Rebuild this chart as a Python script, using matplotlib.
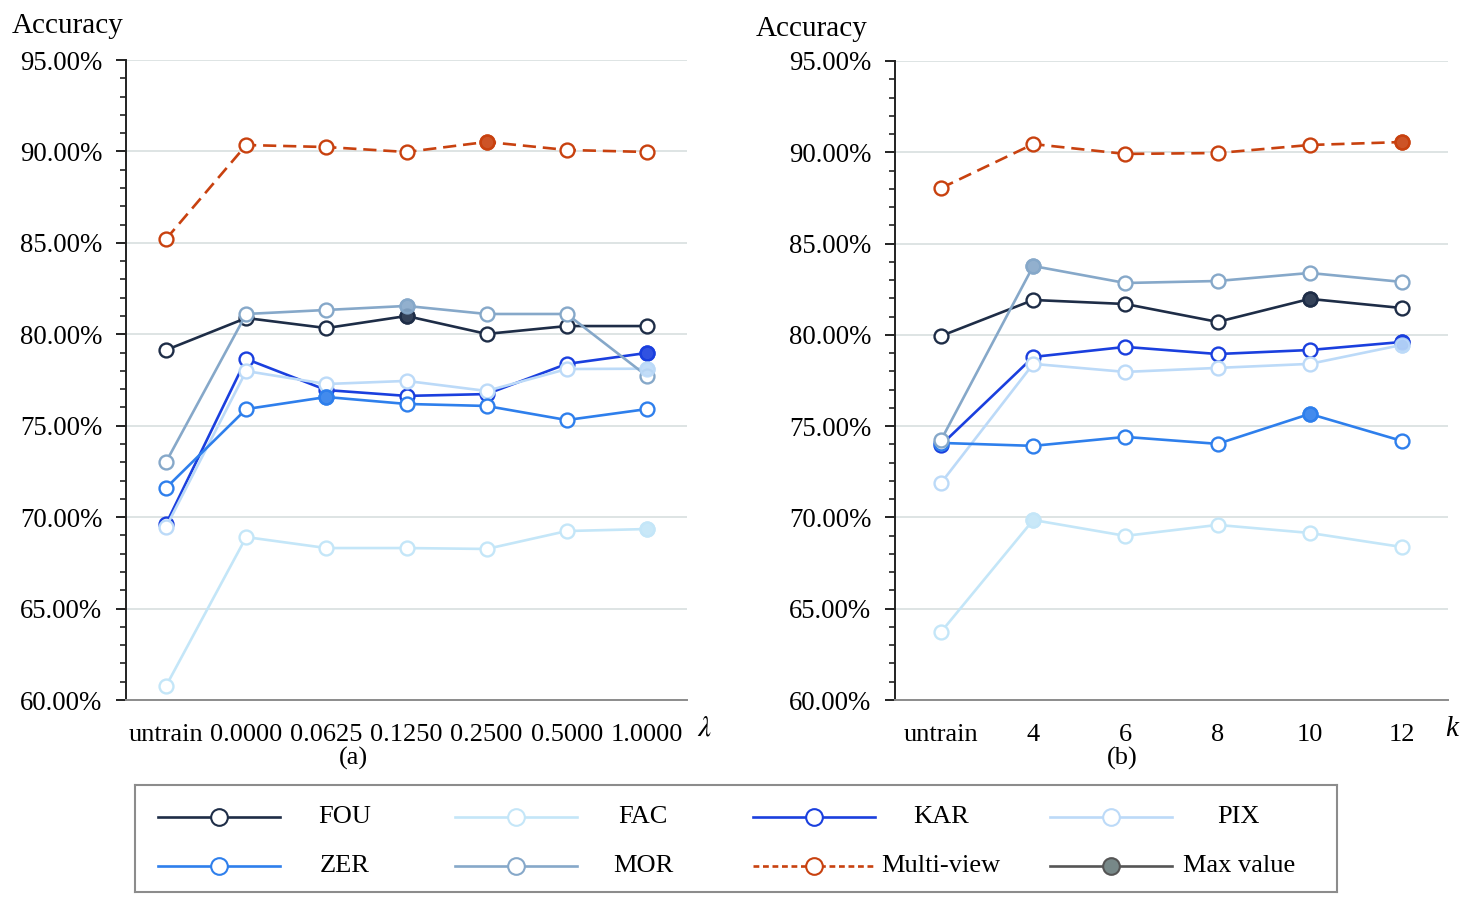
import numpy as np
import matplotlib
matplotlib.use('Agg')
import matplotlib.pyplot as plt
from matplotlib.ticker import MultipleLocator, FuncFormatter

plt.rcParams['font.family'] = ['Liberation Serif', 'DejaVu Serif']
plt.rcParams['mathtext.fontset'] = 'stix'

# x categories
lam_labels = ['untrain', '0.0000', '0.0625', '0.1250', '0.2500', '0.5000', '1.0000']
k_labels = ['untrain', '4', '6', '8', '10', '12']

# (a) accuracy (%) vs lambda
fou_a = [79.14, 80.89, 80.34, 81.00, 80.02, 80.45, 80.45]
fac_a = [60.77, 68.91, 68.31, 68.31, 68.26, 69.24, 69.35]
kar_a = [69.63, 78.65, 76.95, 76.63, 76.73, 78.38, 78.98]
pix_a = [69.46, 77.99, 77.28, 77.45, 76.90, 78.10, 78.12]
zer_a = [71.60, 75.91, 76.57, 76.19, 76.08, 75.31, 75.91]
mor_a = [73.02, 81.11, 81.33, 81.55, 81.11, 81.11, 77.72]
mv_a = [85.21, 90.35, 90.24, 89.97, 90.52, 90.08, 89.97]

# (b) accuracy (%) vs k
fou_b = [79.94, 81.91, 81.69, 80.71, 81.97, 81.47]
fac_b = [63.73, 69.86, 68.99, 69.59, 69.15, 68.38]
kar_b = [73.97, 78.79, 79.34, 78.95, 79.17, 79.61]
pix_b = [71.89, 78.41, 77.97, 78.19, 78.41, 79.45]
zer_b = [74.08, 73.92, 74.41, 74.03, 75.67, 74.19]
mor_b = [74.24, 83.77, 82.84, 82.95, 83.39, 82.90]
mv_b = [88.04, 90.45, 89.91, 89.96, 90.40, 90.56]

names = ['FOU', 'FAC', 'KAR', 'PIX', 'ZER', 'MOR', 'Multi-view']
colors = ['#1e2d47', '#c4e6f8', '#1a3fde', '#bcdaf8', '#2e7fec', '#86a8c9', '#c8410f']
styles = ['-', '-', '-', '-', '-', '-', (0, (5, 2.6))]

series_a = [fou_a, fac_a, kar_a, pix_a, zer_a, mor_a, mv_a]
series_b = [fou_b, fac_b, kar_b, pix_b, zer_b, mor_b, mv_b]

fig = plt.figure(figsize=(14.72, 8.99), dpi=100)
ax1 = fig.add_axes([126 / 1472, 1 - 700 / 899, 561 / 1472, 640 / 899])
ax2 = fig.add_axes([895 / 1472, 1 - 700 / 899, 553 / 1472, 639 / 899])

fs = 19


def draw_panel(ax, labels, series, xlab, sub, xlab_x, sub_x):
    x = np.arange(len(labels))
    for vals, name, c, ls in zip(series, names, colors, styles):
        ax.plot(x, vals, color=c, lw=1.9, ls=ls, marker='o', ms=10,
                mfc='white', mec=c, mew=1.7, zorder=3)
        # highest point of each curve gets a filled marker
        i = int(np.argmax(vals))
        ax.plot(x[i], vals[i], 'o', ms=10, mfc=c, mec=c, mew=1.7,
                alpha=0.9, zorder=4)
    ax.set_xlim(-0.5, len(labels) - 0.5)
    ax.set_ylim(60, 95)
    ax.yaxis.set_major_locator(MultipleLocator(5))
    ax.yaxis.set_minor_locator(MultipleLocator(1))
    ax.yaxis.set_major_formatter(FuncFormatter(lambda v, p: f'{v:.2f}%'))
    ax.set_xticks(x)
    ax.set_xticklabels(labels)
    ax.grid(axis='y', which='major', color='#d8dfdf', lw=1.2, zorder=0)
    ax.set_axisbelow(True)
    for s in ['top', 'right']:
        ax.spines[s].set_visible(False)
    ax.spines['left'].set_color('#222222')
    ax.spines['left'].set_linewidth(1.4)
    ax.spines['bottom'].set_color('#8c8c8c')
    ax.spines['bottom'].set_linewidth(1.4)
    ax.tick_params(axis='y', which='major', length=7, width=1.4,
                   labelsize=fs + 0.3, pad=10, color='#222222')
    ax.tick_params(axis='y', which='minor', length=4, width=1.2, color='#222222')
    ax.tick_params(axis='x', length=0, labelsize=fs, pad=17)
    ax.text(xlab_x, -0.045, xlab, transform=ax.transAxes, fontsize=fs + 2,
            style='italic', ha='left', va='center')
    ax.text(sub_x, -0.092, sub, transform=ax.transAxes, fontsize=fs,
            ha='center', va='center')


draw_panel(ax1, lam_labels, series_a, r'$\lambda$', '(a)', 1.018, 0.405)
draw_panel(ax2, k_labels, series_b, 'k', '(b)', 0.995, 0.411)

fig.text(12 / 1472, 1 - 26 / 899, 'Accuracy', fontsize=21, ha='left', va='center')
fig.text(756 / 1472, 1 - 29 / 899, 'Accuracy', fontsize=21, ha='left', va='center')

# legend box
lg = fig.add_axes([135 / 1472, 1 - 892 / 899, 1202 / 1472, 107 / 899])
lg.set_xlim(0, 4)
lg.set_ylim(0, 2)
lg.set_xticks([])
lg.set_yticks([])
for s in lg.spines.values():
    s.set_color('#8c8c8c')
    s.set_linewidth(1.5)

leg_names = names + ['Max value']
leg_colors = colors + ['#555555']
leg_styles = ['-'] * 6 + [(0, (2.2, 1.4)), '-']
row_y = [1.40, 0.49]
for j, (name, c, ls) in enumerate(zip(leg_names, leg_colors, leg_styles)):
    row, col = divmod(j, 4)
    y = row_y[row]
    x0 = 0.0765 + col * 0.99
    lg.plot([x0, x0 + 0.406], [y, y], color=c, ls=ls, lw=1.9)
    face = '#778888' if name == 'Max value' else 'white'
    lg.plot(x0 + 0.203, y, 'o', ms=12, mfc=face, mec=c, mew=1.5)
    lg.text(0.699 + col * 0.9915, y, name, fontsize=fs, ha='center', va='center')

fig.savefig('out.png', dpi=100)
